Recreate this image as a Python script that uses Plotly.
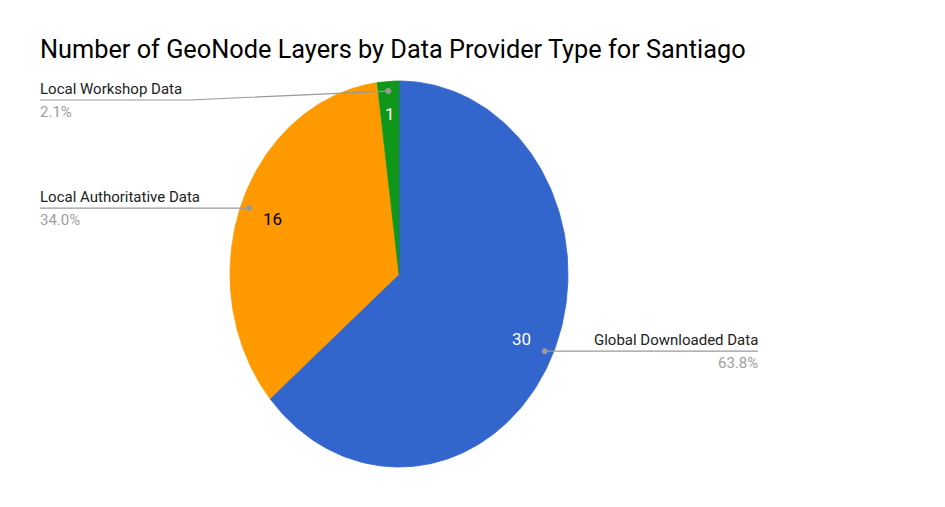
import numpy as np
import plotly.graph_objects as go

# ---- data ----
categories = ["Global Downloaded Data", "Local Authoritative Data", "Local Workshop Data"]
values = [30, 16, 1]
colors = ["#3366CC", "#FF9900", "#109618"]
value_text_colors = ["#FFFFFF", "#000000", "#FFFFFF"]
title_text = "Number of GeoNode Layers by Data Provider Type for Santiago"

# ---- layout geometry (page pixels; figure sits at an 8px page offset) ----
OFF = 8
W, H = 945 - OFF, 507 - OFF
CX, CY = 399 - OFF, 274 - OFF      # pie centre in figure pixels
RX, RY = 169, 193                  # pie radii (reference is horizontally squeezed)

def dx(p):  # page px -> data x
    return (p - OFF - CX) / RX

def dy(p):  # page px -> data y
    return (CY - (p - OFF)) / RY

total = sum(values)
frac = np.array(values, dtype=float) / total
cum = np.concatenate([[0.0], np.cumsum(frac)])
mid = (cum[:-1] + cum[1:]) / 2 * 2 * np.pi

fig = go.Figure()

# slices
for i, cat in enumerate(categories):
    a = np.linspace(cum[i], cum[i + 1], 200) * 2 * np.pi
    xs = np.concatenate([[0.0], np.sin(a), [0.0]])
    ys = np.concatenate([[0.0], np.cos(a), [0.0]])
    fig.add_trace(go.Scatter(
        x=xs, y=ys, mode="lines", fill="toself",
        fillcolor=colors[i], line=dict(color=colors[i], width=0.8),
        hoverinfo="text", text=f"{cat}: {values[i]} ({frac[i]*100:.1f}%)",
        showlegend=False,
    ))

# value labels inside slices
for i in range(len(values)):
    r = 0.8 if values[i] > 1 else 0.83
    fig.add_annotation(
        x=r * np.sin(mid[i]), y=r * np.cos(mid[i]), xref="x", yref="y",
        text=str(values[i]), showarrow=False,
        font=dict(family="Roboto", size=17, color=value_text_colors[i]),
        xanchor="center", yanchor="middle",
    )

# leader lines, dots and outside labels
dot_r = 0.95
lead_col = "#999999"
name_col = "#222222"
pct_col = "#9E9E9E"
for i, cat in enumerate(categories):
    px_ = dot_r * np.sin(mid[i])
    py_ = dot_r * np.cos(mid[i])
    pct = f"{frac[i]*100:.1f}%"
    if cat == "Global Downloaded Data":
        line_y = py_
        lx = [px_, dx(758)]
        ly = [py_, line_y]
        tx, anchor = dx(760), "right"
    elif cat == "Local Authoritative Data":
        line_y = py_
        lx = [px_, dx(40)]
        ly = [py_, line_y]
        tx, anchor = dx(38), "left"
    else:
        line_y = dy(100)
        lx = [px_, dx(190), dx(40)]
        ly = [py_, line_y, line_y]
        tx, anchor = dx(38), "left"
    fig.add_trace(go.Scatter(x=lx, y=ly, mode="lines",
                             line=dict(color=lead_col, width=1.2),
                             hoverinfo="skip", showlegend=False))
    fig.add_trace(go.Scatter(x=[px_], y=[py_], mode="markers",
                             marker=dict(color=lead_col, size=6),
                             hoverinfo="skip", showlegend=False))
    fig.add_annotation(x=tx, y=line_y + 11 / RY, xref="x", yref="y",
                       text=cat, showarrow=False, xanchor=anchor, yanchor="middle",
                       font=dict(family="Roboto", size=15, color=name_col))
    fig.add_annotation(x=tx, y=line_y - 12 / RY, xref="x", yref="y",
                       text=pct, showarrow=False, xanchor=anchor, yanchor="middle",
                       font=dict(family="Roboto", size=15, color=pct_col))

fig.update_layout(
    width=W, height=H,
    margin=dict(l=0, r=0, t=0, b=0),
    paper_bgcolor="white", plot_bgcolor="white",
    title=dict(text=title_text, x=(40 - OFF) / W, xanchor="left", xref="paper",
               y=1 - (49 - OFF) / H, yref="container", yanchor="middle",
               font=dict(family="Roboto", size=25.3, color="#000000")),
    xaxis=dict(range=[dx(OFF), dx(OFF + W)], visible=False, fixedrange=True),
    yaxis=dict(range=[dy(OFF + H), dy(OFF)], visible=False, fixedrange=True),
    showlegend=False,
)

fig.write_html("out.html")
